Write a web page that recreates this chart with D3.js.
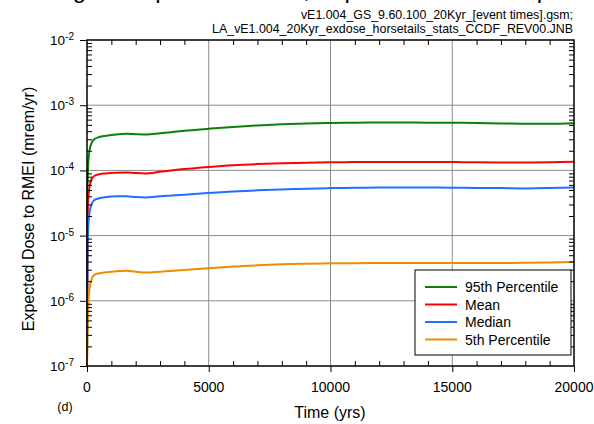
<!DOCTYPE html>
<html lang="en">
<head>
  <meta charset="UTF-8">
  <title>Expected Dose to RMEI</title>
  <script src="https://d3js.org/d3.v7.min.js"></script>
  <style>
    body { margin: 0; background: #ffffff; font-family: Arial, 'Liberation Sans', sans-serif; }
    svg { display: block; }
    .grid line { stroke: #8c8c8c; stroke-width: 1; }
    .series { fill: none; stroke-width: 2; }
  </style>
</head>
<body>
  <svg width="594" height="424"></svg>

  <script>
    // time (yrs)
    const years = [0, 20, 50, 100, 200, 300, 500, 800, 1200, 1600, 2000, 2400, 3000, 4000, 5000,
      6000, 7000, 8000, 9000, 10000, 11000, 12000, 13000, 14000, 15000, 16000, 17000, 18000, 19000, 20000];

    // expected dose (mrem/yr)
    const p95 = [1e-7, 5e-5, 1.2e-4, 2.0e-4, 2.7e-4, 3.0e-4, 3.25e-4, 3.4e-4, 3.55e-4, 3.65e-4, 3.6e-4, 3.55e-4, 3.7e-4, 4.05e-4, 4.35e-4,
      4.65e-4, 4.9e-4, 5.1e-4, 5.25e-4, 5.35e-4, 5.4e-4, 5.42e-4, 5.42e-4, 5.4e-4, 5.38e-4, 5.33e-4, 5.25e-4, 5.2e-4, 5.2e-4, 5.3e-4];
    const mean = [1e-7, 1.5e-5, 3.5e-5, 5.5e-5, 7.5e-5, 8.2e-5, 8.7e-5, 9.0e-5, 9.2e-5, 9.3e-5, 9.1e-5, 9.0e-5, 9.5e-5, 1.05e-4, 1.13e-4,
      1.2e-4, 1.25e-4, 1.29e-4, 1.31e-4, 1.33e-4, 1.34e-4, 1.35e-4, 1.35e-4, 1.35e-4, 1.34e-4, 1.33e-4, 1.32e-4, 1.32e-4, 1.33e-4, 1.36e-4];
    const median = [1e-7, 5e-6, 1.3e-5, 2.2e-5, 3.1e-5, 3.5e-5, 3.75e-5, 3.9e-5, 4.0e-5, 4.0e-5, 3.9e-5, 3.85e-5, 4.0e-5, 4.25e-5, 4.5e-5,
      4.75e-5, 4.95e-5, 5.1e-5, 5.25e-5, 5.35e-5, 5.4e-5, 5.45e-5, 5.45e-5, 5.45e-5, 5.42e-5, 5.38e-5, 5.35e-5, 5.3e-5, 5.35e-5, 5.45e-5];
    const p05 = [1e-7, 3e-7, 8e-7, 1.5e-6, 2.2e-6, 2.5e-6, 2.65e-6, 2.75e-6, 2.85e-6, 2.9e-6, 2.8e-6, 2.72e-6, 2.8e-6, 2.98e-6, 3.15e-6,
      3.35e-6, 3.5e-6, 3.62e-6, 3.7e-6, 3.75e-6, 3.78e-6, 3.8e-6, 3.8e-6, 3.8e-6, 3.8e-6, 3.8e-6, 3.8e-6, 3.82e-6, 3.88e-6, 3.95e-6];

    const seriesNames = ["95th Percentile", "Mean", "Median", "5th Percentile"];
    const seriesColors = ["#0a800a", "#ff0000", "#1f6fff", "#f08c00"];
    const seriesValues = [p95, mean, median, p05];

    const xTicks = [0, 5000, 10000, 15000, 20000];
    const yExponents = [-2, -3, -4, -5, -6, -7];

    const plotLeft = 87, plotRight = 574, plotTop = 40, plotBottom = 366;
    const svg = d3.select("svg");

    const x = d3.scaleLinear().domain([0, 20000]).range([plotLeft, plotRight]);
    const y = d3.scaleLog().domain([1e-7, 1e-2]).range([plotBottom, plotTop]);

    // page title, mostly cut off at the top edge, then the file info
    svg.append("text")
      .attr("x", 98).attr("y", -2)
      .attr("text-anchor", "end")
      .attr("font-size", 24)
      .text("Seismic Ground Motion Findings");
    svg.append("text")
      .attr("x", 104.5).attr("y", -2)
      .attr("font-size", 24)
      .text("Component Doses, Expected Dose Comparison");

    svg.append("text")
      .attr("x", plotRight - 1).attr("y", 19)
      .attr("text-anchor", "end")
      .attr("font-size", 12.4)
      .text("vE1.004_GS_9.60.100_20Kyr_[event times].gsm;");
    svg.append("text")
      .attr("x", plotRight - 1).attr("y", 33)
      .attr("text-anchor", "end")
      .attr("font-size", 12.4)
      .text("LA_vE1.004_20Kyr_exdose_horsetails_stats_CCDF_REV00.JNB");

    // grid
    const grid = svg.append("g").attr("class", "grid");
    grid.selectAll("line.v")
      .data(xTicks.slice(1, -1))
      .enter().append("line")
      .attr("x1", d => x(d)).attr("x2", d => x(d))
      .attr("y1", plotTop).attr("y2", plotBottom);
    grid.selectAll("line.h")
      .data(yExponents.slice(1, -1))
      .enter().append("line")
      .attr("x1", plotLeft).attr("x2", plotRight)
      .attr("y1", d => y(Math.pow(10, d))).attr("y2", d => y(Math.pow(10, d)));

    // series
    const line = d3.line()
      .x((d, i) => x(years[i]))
      .y(d => y(d))
      .curve(d3.curveMonotoneX);

    svg.selectAll("path.series")
      .data(seriesValues)
      .enter().append("path")
      .attr("class", "series")
      .attr("stroke", (d, i) => seriesColors[i])
      .attr("d", line);

    // axes: minor ticks drawn inward like the original plotting package
    const minorX = d3.range(0, 20001, 1000).filter(d => d % 5000 !== 0);
    const minorY = [];
    for (let e = -7; e < -2; e++) {
      for (let m = 2; m <= 9; m++) minorY.push(m * Math.pow(10, e));
    }

    svg.append("g")
      .attr("transform", `translate(0,${plotBottom})`)
      .call(d3.axisBottom(x).tickValues(xTicks).tickSize(6).tickFormat(""))
      .call(g => g.select(".domain").remove());
    svg.append("g")
      .attr("transform", `translate(0,${plotBottom})`)
      .call(d3.axisTop(x).tickValues(minorX).tickSize(5).tickFormat(""))
      .call(g => g.select(".domain").remove());
    svg.append("g")
      .attr("transform", `translate(0,${plotTop})`)
      .call(d3.axisBottom(x).tickValues(minorX).tickSize(5).tickFormat(""))
      .call(g => g.select(".domain").remove());

    svg.append("g")
      .attr("transform", `translate(${plotLeft},0)`)
      .call(d3.axisLeft(y).tickValues(yExponents.map(e => Math.pow(10, e))).tickSize(7).tickFormat(""))
      .call(g => g.select(".domain").remove());
    svg.append("g")
      .attr("transform", `translate(${plotLeft},0)`)
      .call(d3.axisRight(y).tickValues(minorY).tickSize(5).tickFormat(""))
      .call(g => g.select(".domain").remove());
    svg.append("g")
      .attr("transform", `translate(${plotRight},0)`)
      .call(d3.axisLeft(y).tickValues(minorY).tickSize(5).tickFormat(""))
      .call(g => g.select(".domain").remove());

    svg.append("rect")
      .attr("x", plotLeft).attr("y", plotTop)
      .attr("width", plotRight - plotLeft).attr("height", plotBottom - plotTop)
      .attr("fill", "none").attr("stroke", "#000").attr("stroke-width", 1.5);

    // tick labels
    svg.selectAll("text.xl")
      .data(xTicks)
      .enter().append("text")
      .attr("x", d => x(d)).attr("y", 392)
      .attr("text-anchor", "middle")
      .attr("font-size", 14)
      .text(d => d);

    const yl = svg.selectAll("text.yl")
      .data(yExponents)
      .enter().append("text")
      .attr("x", 74).attr("y", d => y(Math.pow(10, d)) + 5)
      .attr("text-anchor", "end")
      .attr("font-size", 13.5);
    yl.append("tspan").text("10");
    yl.append("tspan").attr("dy", -5).attr("font-size", 10).text(d => d);

    svg.append("text")
      .attr("x", 330).attr("y", 418)
      .attr("text-anchor", "middle")
      .attr("font-size", 16)
      .text("Time (yrs)");
    svg.append("text")
      .attr("transform", `translate(34,209) rotate(-90)`)
      .attr("text-anchor", "middle")
      .attr("font-size", 16)
      .text("Expected Dose to RMEI (mrem/yr)");
    svg.append("text")
      .attr("x", 65).attr("y", 411)
      .attr("text-anchor", "middle")
      .attr("font-size", 12.5)
      .text("(d)");

    // legend
    const legend = svg.append("g").attr("transform", "translate(415,270)");
    legend.append("rect")
      .attr("width", 156).attr("height", 85)
      .attr("fill", "#fff").attr("stroke", "#000").attr("stroke-width", 1);
    const item = legend.selectAll("g.item")
      .data(seriesNames)
      .enter().append("g")
      .attr("transform", (d, i) => `translate(0,${17 + i * 17.5})`);
    item.append("line")
      .attr("x1", 10).attr("x2", 42)
      .attr("stroke", (d, i) => seriesColors[i])
      .attr("stroke-width", 2);
    item.append("text")
      .attr("x", 50).attr("y", 5)
      .attr("font-size", 14)
      .text(d => d);
  </script>
</body>
</html>
